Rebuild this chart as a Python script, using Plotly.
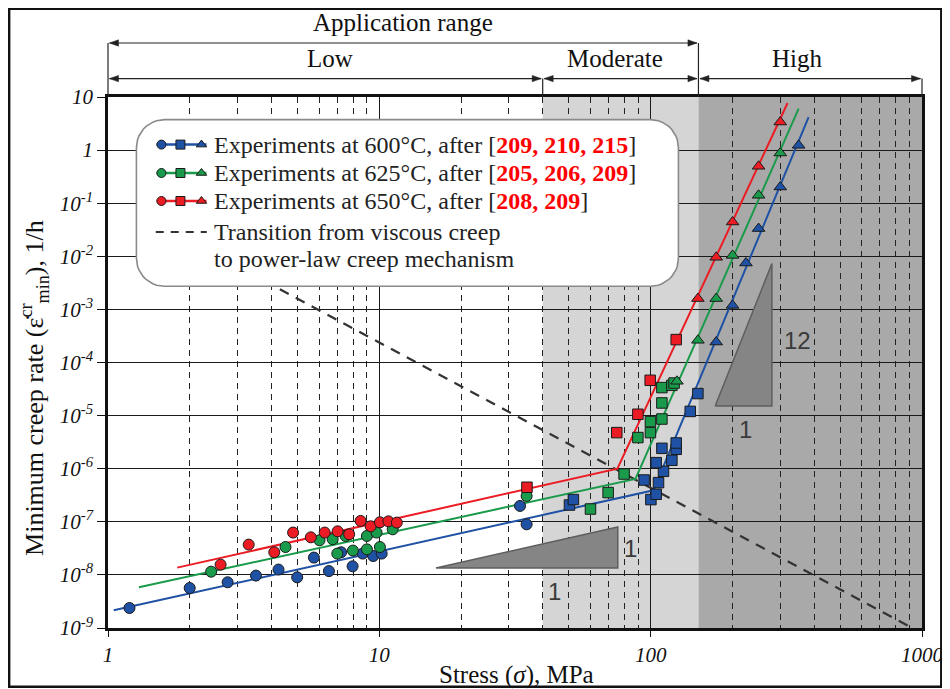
import numpy as np
import plotly.graph_objects as go

# ---------------- data ----------------
blue_circ_x = [1.20, 2.0, 2.76, 3.51, 4.25, 4.98, 5.74, 6.52, 7.23, 7.97, 8.68, 9.49, 10.2, 33.0, 34.9]
blue_circ_y = [2.38e-9, 5.66e-9, 7.26e-9, 9.7e-9, 1.26e-8, 9.0e-9, 2.12e-8, 1.18e-8, 2.67e-8,
               1.45e-8, 2.52e-8, 2.27e-8, 2.52e-8, 1.99e-7, 8.97e-8]
blue_sq_x = [50.2, 51.9, 94.6, 100.2, 104.8, 106.9, 111.5, 104.8, 119.7, 110.0, 124.2, 124.2, 139.9, 149.3]
blue_sq_y = [2.07e-7, 2.62e-7, 6.12e-7, 2.62e-7, 3.3e-7, 5.47e-7, 8.93e-7, 1.30e-6, 1.44e-6,
             2.42e-6, 2.32e-6, 3.05e-6, 1.2e-5, 2.6e-5]
blue_tri_x = [174.4, 200.4, 224.5, 249.9, 300.4, 351.0]
blue_tri_y = [2.43e-4, 1.19e-3, 7.48e-3, 3.33e-2, 0.202, 1.23]

green_circ_x = [2.40, 4.51, 6.02, 6.73, 7.0, 7.51, 7.99, 9.0, 9.0, 9.77, 10.05, 11.2, 34.9]
green_circ_y = [1.15e-8, 3.35e-8, 4.49e-8, 4.69e-8, 2.52e-8, 5.41e-8, 2.87e-8, 5.41e-8, 3.03e-8,
                6.27e-8, 3.35e-8, 7.22e-8, 3.06e-7]
green_sq_x = [60.0, 69.7, 79.8, 89.7, 99.8, 99.8, 110.0, 110.0, 110.0, 119.7, 122.0]
green_sq_y = [1.74e-7, 3.55e-7, 7.94e-7, 3.86e-6, 4.78e-6, 7.71e-6, 8.63e-6, 1.73e-5, 3.37e-5, 3.72e-5, 4.1e-5]
green_tri_x = [125.0, 149.3, 174.4, 200.4, 249.9, 300.4]
green_tri_y = [4.43e-5, 2.62e-4, 1.6e-3, 1.04e-2, 0.141, 0.882]

red_circ_x = [2.60, 3.30, 4.10, 4.81, 5.59, 6.29, 7.02, 7.74, 8.53, 9.29, 10.05, 10.8, 11.6]
red_circ_y = [1.56e-8, 3.72e-8, 2.67e-8, 6.27e-8, 5.1e-8, 6.27e-8, 6.62e-8, 5.82e-8, 1.04e-7,
              8.22e-8, 9.8e-8, 1.02e-7, 9.66e-8]
red_sq_x = [35.0, 75.0, 89.7, 99.6, 124.2]
red_sq_y = [4.47e-7, 4.78e-6, 1.06e-5, 4.62e-5, 2.7e-4]
red_tri_x = [149.3, 174.4, 200.4, 249.9, 300.4]
red_tri_y = [1.6e-3, 9.58e-3, 4.43e-2, 0.496, 3.38]

fit_blue_x = [1.05, 102.4, 382.0]
fit_blue_y = [2.15e-9, 3.92e-7, 4.2]
fit_green_x = [1.30, 87.9, 351.0]
fit_green_y = [5.85e-9, 6.4e-7, 6.05]
fit_red_x = [1.80, 75.4, 319.6]
fit_red_y = [1.37e-8, 1.0e-6, 7.7]

transition_x = [4.30, 1000.0]
transition_y = [2.39e-3, 8.0e-10]

region_bounds = [1, 40, 150, 1000]
region_labels = ["Low", "Moderate", "High"]

x_tickvals = [1, 10, 100, 1000]
x_ticktext = ["1", "10", "100", "1000"]
x_minor = [m * 10 ** k for k in range(3) for m in range(2, 10)]
y_tickvals = [10, 1] + [10.0 ** -k for k in range(1, 10)]
y_ticktext = ["10", "1"] + ["10<sup>-%d</sup>" % k for k in range(1, 10)]

REDNUM = "<b><span style='color:#ff0000'>%s</span></b>"
legend_rows = [
    ("Experiments at 600°C, after [" + REDNUM % "209, 210, 215" + "]", "#1f52a4"),
    ("Experiments at 625°C, after [" + REDNUM % "205, 206, 209" + "]", "#1a9b4b"),
    ("Experiments at 650°C, after [" + REDNUM % "208, 209" + "]", "#ec1c24"),
]
legend_dash_text = ["Transition from viscous creep", "to power-law creep mechanism"]

# ---------------- layout helpers ----------------
# the page body adds an 8 px offset; reference pixel coords are screen coords
OFF = 8
W, H = 950 - OFF, 689 - OFF
SL, SR, ST, SB = 108.3, 921.7, 96.7, 627.7      # plot area in screen px
L, R, T, B = SL - OFF, SR - OFF, ST - OFF, SB - OFF


def px(x):
    return (x - SL) / (SR - SL)


def py(y):
    return (SB - y) / (SB - ST)


BLUE, GREEN, RED = "#1f52a4", "#1a9b4b", "#ec1c24"
SERIF = "Liberation Serif"
TXT = 24
MLINE = dict(color="#1a1a1a", width=1)

fig = go.Figure()

series = [
    (BLUE, blue_circ_x, blue_circ_y, blue_sq_x, blue_sq_y, blue_tri_x, blue_tri_y, fit_blue_x, fit_blue_y),
    (GREEN, green_circ_x, green_circ_y, green_sq_x, green_sq_y, green_tri_x, green_tri_y, fit_green_x, fit_green_y),
    (RED, red_circ_x, red_circ_y, red_sq_x, red_sq_y, red_tri_x, red_tri_y, fit_red_x, fit_red_y),
]

fig.add_trace(go.Scatter(x=transition_x, y=transition_y, mode="lines",
                         line=dict(color="#333333", width=2.2, dash="10px,8px"), hoverinfo="skip"))

for col, cx, cy, sx, sy, tx, ty, fx, fy in series:
    fig.add_trace(go.Scatter(x=fx, y=fy, mode="lines", line=dict(color=col, width=2)))
for col, cx, cy, sx, sy, tx, ty, fx, fy in series:
    fig.add_trace(go.Scatter(x=cx, y=cy, mode="markers",
                             marker=dict(symbol="circle", size=11, color=col, line=MLINE)))
    fig.add_trace(go.Scatter(x=sx, y=sy, mode="markers",
                             marker=dict(symbol="square", size=10.5, color=col, line=MLINE)))
    fig.add_trace(go.Scatter(x=tx, y=ty, mode="markers",
                             marker=dict(symbol="triangle-up", size=11, color=col, line=MLINE)))

# ---------- overlay (paper-like) axes for legend box & slope triangles ----------
ov = dict(xaxis="x2", yaxis="y2", hoverinfo="skip", showlegend=False)

tri1 = [(436, 567.7), (617.7, 526.7), (617.7, 567.7), (436, 567.7)]
tri2 = [(715, 405.7), (771.7, 263.3), (771.7, 405.7), (715, 405.7)]
for tri in (tri1, tri2):
    fig.add_trace(go.Scatter(x=[px(a) for a, b in tri], y=[py(b) for a, b in tri], mode="lines",
                             fill="toself", fillcolor="#858585", line=dict(color="#5e5e5e", width=1.5), **ov))

bx0, bx1, by0, by1, rad = 136.7, 678.3, 119.3, 286.0, 28
pts = []
for (cxp, cyp, a0) in [(bx1 - rad, by0 + rad, -90), (bx1 - rad, by1 - rad, 0),
                       (bx0 + rad, by1 - rad, 90), (bx0 + rad, by0 + rad, 180)]:
    for a in np.linspace(a0, a0 + 90, 12):
        pts.append((cxp + rad * np.cos(np.radians(a)), cyp + rad * np.sin(np.radians(a))))
pts.append(pts[0])
fig.add_trace(go.Scatter(x=[px(a) for a, b in pts], y=[py(b) for a, b in pts], mode="lines",
                         fill="toself", fillcolor="white", line=dict(color="#8a8a8a", width=1.6), **ov))

row_y = [144.3, 172.7, 200.7]
for (txt, col), ry in zip(legend_rows, row_y):
    fig.add_trace(go.Scatter(x=[px(156.7), px(206.7)], y=[py(ry)] * 2, mode="lines",
                             line=dict(color=col, width=2.5), **ov))
    for xm, sym in [(161.7, "circle"), (180.7, "square"), (201.7, "triangle-up")]:
        fig.add_trace(go.Scatter(x=[px(xm)], y=[py(ry)], mode="markers",
                                 marker=dict(symbol=sym, size=9, color=col, line=MLINE), **ov))
fig.add_trace(go.Scatter(x=[px(156.0), px(207.0)], y=[py(231.7)] * 2, mode="lines",
                         line=dict(color="#333333", width=2, dash="8px,7px"), **ov))


def ann(text, sx, sy, size=TXT, xanchor="center", family=SERIF, color="#111", **kw):
    return dict(x=px(sx), y=py(sy), xref="paper", yref="paper", text=text, showarrow=False,
                xanchor=xanchor, yanchor="middle", font=dict(family=family, size=size, color=color), **kw)


annotations = []
for (txt, col), ry in zip(legend_rows, row_y):
    annotations.append(ann(txt, 212, ry, xanchor="left", color="#222"))
for t, ry in zip(legend_dash_text, [231.7, 258.3]):
    annotations.append(ann(t, 212, ry, xanchor="left", color="#222"))

for t, xx, yy in [("1", 630, 548), ("1", 554, 591), ("12", 797, 340), ("1", 745, 429)]:
    annotations.append(ann(t, xx, yy, size=24, family="Liberation Sans", color="#3a3a3a"))


def lx(v):
    return np.log10(v) / 3.0


shapes = [
    dict(type="rect", xref="x", yref="paper", x0=region_bounds[1], x1=region_bounds[2], y0=0, y1=1,
         fillcolor="#d5d5d5", line_width=0, layer="below"),
    dict(type="rect", xref="x", yref="paper", x0=region_bounds[2], x1=region_bounds[3], y0=0, y1=1,
         fillcolor="#a9a9a9", line_width=0, layer="below"),
    dict(type="rect", xref="paper", yref="paper", x0=px(9.5), x1=px(941), y0=py(686.5), y1=py(8.5),
         line=dict(color="#111", width=2.5), layer="above"),
]

# header double arrows (lines + filled heads)
y_app, y_reg = 42.7, 78.3
arrow_specs = [(region_bounds[0], region_bounds[2], y_app)]
for i in range(3):
    arrow_specs.append((region_bounds[i], region_bounds[i + 1], y_reg))
HL, HW = 9.0, 3.2
dx = HL / (SR - SL)
dy = HW / (SB - ST)
for a, b, yy in arrow_specs:
    x0p, x1p = lx(a) + 1.5 / (SR - SL), lx(b) - 1.5 / (SR - SL)
    yp = py(yy)
    shapes.append(dict(type="line", xref="paper", yref="paper", x0=x0p, x1=x1p, y0=yp, y1=yp,
                       line=dict(color="#222", width=1.2)))
    shapes.append(dict(type="path", xref="paper", yref="paper",
                       path="M %f %f L %f %f L %f %f Z" % (x0p, yp, x0p + dx, yp + dy, x0p + dx, yp - dy),
                       fillcolor="#222", line=dict(color="#222", width=0.5)))
    shapes.append(dict(type="path", xref="paper", yref="paper",
                       path="M %f %f L %f %f L %f %f Z" % (x1p, yp, x1p - dx, yp + dy, x1p - dx, yp - dy),
                       fillcolor="#222", line=dict(color="#222", width=0.5)))
for v, ytop in [(region_bounds[0], y_app), (region_bounds[2], y_app), (region_bounds[1], y_reg),
                (region_bounds[3], y_reg)]:
    shapes.append(dict(type="line", xref="paper", yref="paper", x0=lx(v), x1=lx(v), y0=1, y1=py(ytop),
                       line=dict(color="#222", width=1.2)))

annotations.append(ann("Application range", 403, 22, size=25))
for lab, xx in zip(region_labels, [330, 615, 797]):
    annotations.append(ann(lab, xx, 58, size=25))

annotations.append(ann("Stress (<i>σ</i>), MPa", 516, 675, size=25))
annotations.append(ann("Minimum creep rate (ε\u0307<sup>cr</sup><sub>min</sub>), 1/h", 35, 388,
                       size=26, textangle=-90))

fig.update_layout(
    width=W, height=H,
    margin=dict(l=L, r=W - R, t=T, b=H - B, pad=0, autoexpand=False),
    paper_bgcolor="white", plot_bgcolor="white",
    showlegend=False,
    annotations=annotations, shapes=shapes,
    xaxis=dict(type="log", range=[0, 3], tickvals=x_tickvals, ticktext=x_ticktext,
               tickfont=dict(family=SERIF, size=21, color="#111", style="italic"),
               ticklabeloverflow="allow", automargin=False,
               showgrid=True, gridcolor="#1a1a1a", gridwidth=1.3,
               minor=dict(tickvals=x_minor, showgrid=True, gridcolor="#222", gridwidth=1,
                          griddash="6px,5px", ticks=""),
               ticks="outside", ticklen=6, tickwidth=1.3, tickcolor="#111",
               showline=True, linecolor="#111", linewidth=2.5, mirror=True, zeroline=False),
    yaxis=dict(type="log", range=[-9, 1], tickvals=y_tickvals, ticktext=y_ticktext,
               tickfont=dict(family=SERIF, size=21, color="#111", style="italic"),
               automargin=False,
               showgrid=True, gridcolor="#1a1a1a", gridwidth=1.3,
               ticks="outside", ticklen=8, tickwidth=1.3, tickcolor="#111",
               showline=True, linecolor="#111", linewidth=2.5, mirror=True, zeroline=False),
    xaxis2=dict(overlaying="x", range=[0, 1], visible=False, anchor="y2", fixedrange=True, automargin=False),
    yaxis2=dict(overlaying="y", range=[0, 1], visible=False, anchor="x2", fixedrange=True, automargin=False),
)

fig.write_html("out.html")
